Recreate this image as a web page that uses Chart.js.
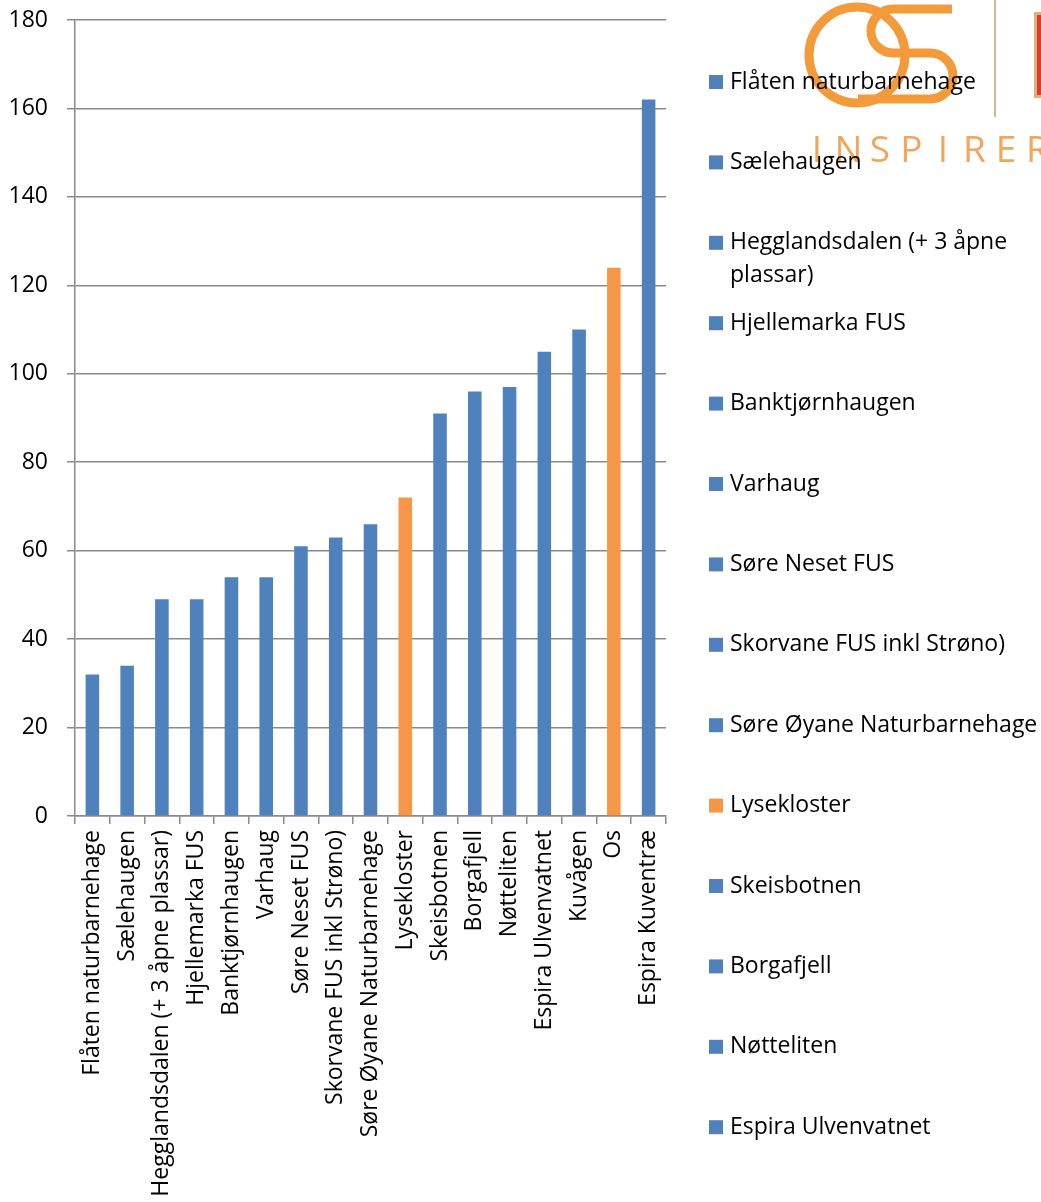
<!DOCTYPE html>
<html>
<head>
<meta charset="utf-8">
<script src="https://cdn.jsdelivr.net/npm/chart.js@4.4.1/dist/chart.umd.min.js"></script>
<style>
    body { margin: 0; background: #fff; }
    #wrap { width: 1041px; height: 1202px; position: relative; }
</style>
</head>
<body>
<div id="wrap"><canvas id="barChart"></canvas></div>
<script>
// Kindergartens, sorted by value
const categories = [
    'Flåten naturbarnehage',
    'Sælehaugen',
    'Hegglandsdalen (+ 3 åpne plassar)',
    'Hjellemarka FUS',
    'Banktjørnhaugen',
    'Varhaug',
    'Søre Neset FUS',
    'Skorvane FUS inkl Strøno)',
    'Søre Øyane Naturbarnehage',
    'Lysekloster',
    'Skeisbotnen',
    'Borgafjell',
    'Nøtteliten',
    'Espira Ulvenvatnet',
    'Kuvågen',
    'Os',
    'Espira Kuventræ'
];
const values = [32, 34, 49, 49, 54, 54, 61, 63, 66, 72, 91, 96, 97, 105, 110, 124, 162];
const highlighted = ['Lysekloster', 'Os'];
const yTicks = [0, 20, 40, 60, 80, 100, 120, 140, 160, 180];

const BLUE = '#4F81BD';
const ORANGE = '#F79646';
const GRID = '#8A8A8A';
const FONT = '"Open Sans", sans-serif';
const FONT_SIZE = 23;

const barColors = categories.map(c => highlighted.includes(c) ? ORANGE : BLUE);

// Os kommune logo behind the legend
const logoPlugin = {
    id: 'logo',
    beforeDraw(chart) {
        const ctx = chart.ctx;
        ctx.save();
        ctx.strokeStyle = '#F39A3A';
        ctx.lineWidth = 9;
        ctx.beginPath();
        ctx.arc(857, 55, 48, 0, Math.PI * 2);
        ctx.stroke();

        ctx.beginPath();
        ctx.moveTo(952, 9);
        ctx.lineTo(893, 9);
        ctx.arc(893, 31, 22, -Math.PI / 2, Math.PI / 2, true);
        ctx.lineTo(930, 53);
        ctx.arc(930, 76, 23, -Math.PI / 2, Math.PI / 2, false);
        ctx.lineTo(858, 99);
        ctx.stroke();

        ctx.strokeStyle = '#DDB887';
        ctx.lineWidth = 2;
        ctx.beginPath();
        ctx.moveTo(995, 0);
        ctx.lineTo(995, 117);
        ctx.stroke();

        ctx.fillStyle = '#D9B27C';
        ctx.fillRect(1034, 12, 10, 86);
        ctx.fillStyle = '#E0392E';
        ctx.fillRect(1037, 15, 10, 80);

        ctx.fillStyle = '#F2A65A';
        ctx.font = '37px ' + FONT;
        ctx.textAlign = 'center';
        ctx.textBaseline = 'alphabetic';
        'INSPIRERER'.split('').forEach((ch, i) => {
            ctx.fillText(ch, 817 + i * 31.5, 162);
        });
        ctx.restore();
    }
};

// Legend on the right, one entry per category
const sideLegend = {
    id: 'sideLegend',
    afterDraw(chart) {
        const ctx = chart.ctx;
        const top = 82, step = 80.4, maxW = 311;
        ctx.save();
        ctx.font = FONT_SIZE + 'px ' + FONT;
        ctx.textBaseline = 'middle';
        categories.forEach((label, i) => {
            const y = top + i * step;
            if (y + 10 > chart.height) return;
            ctx.fillStyle = barColors[i];
            ctx.fillRect(709, y - 7, 14, 14);
            ctx.fillStyle = '#000';
            // simple word wrap
            const lines = [];
            let line = '';
            label.split(' ').forEach(w => {
                const test = line ? line + ' ' + w : w;
                if (ctx.measureText(test).width > maxW && line) {
                    lines.push(line);
                    line = w;
                } else {
                    line = test;
                }
            });
            lines.push(line);
            lines.forEach((l, j) => ctx.fillText(l, 730, y + j * 33));
        });
        ctx.restore();
    }
};

Chart.defaults.font.family = FONT;
Chart.defaults.font.size = FONT_SIZE;
Chart.defaults.color = '#000';

const ctx = document.getElementById('barChart').getContext('2d');
const chart = new Chart(ctx, {
    type: 'bar',
    data: {
        labels: categories,
        datasets: [{
            data: values,
            backgroundColor: barColors,
            borderWidth: 0,
            categoryPercentage: 1,
            barPercentage: 0.39
        }]
    },
    options: {
        responsive: true,
        maintainAspectRatio: false,
        animation: false,
        layout: { padding: { top: 20, right: 375, left: 0, bottom: 0 } },
        plugins: {
            legend: { display: false },
            tooltip: { enabled: false }
        },
        scales: {
            x: {
                grid: {
                    offset: true,
                    drawOnChartArea: false,
                    drawTicks: true,
                    tickLength: 8,
                    color: GRID,
                    lineWidth: 1.5
                },
                border: { color: GRID, width: 1.5 },
                ticks: {
                    autoSkip: false,
                    maxRotation: 90,
                    minRotation: 90,
                    padding: 6
                },
                afterFit(scale) { scale.height = 386; }
            },
            y: {
                min: 0,
                max: 180,
                afterBuildTicks(scale) {
                    scale.ticks = yTicks.map(v => ({ value: v }));
                },
                grid: { color: GRID, tickLength: 8, lineWidth: 1.5 },
                border: { color: GRID, width: 1.5 },
                ticks: { padding: 19 },
                afterFit(scale) {
                    scale.width = 75;
                    scale.paddingTop = 0;
                    scale.paddingBottom = 0;
                }
            }
        }
    },
    plugins: [logoPlugin, sideLegend]
});
</script>
</body>
</html>
